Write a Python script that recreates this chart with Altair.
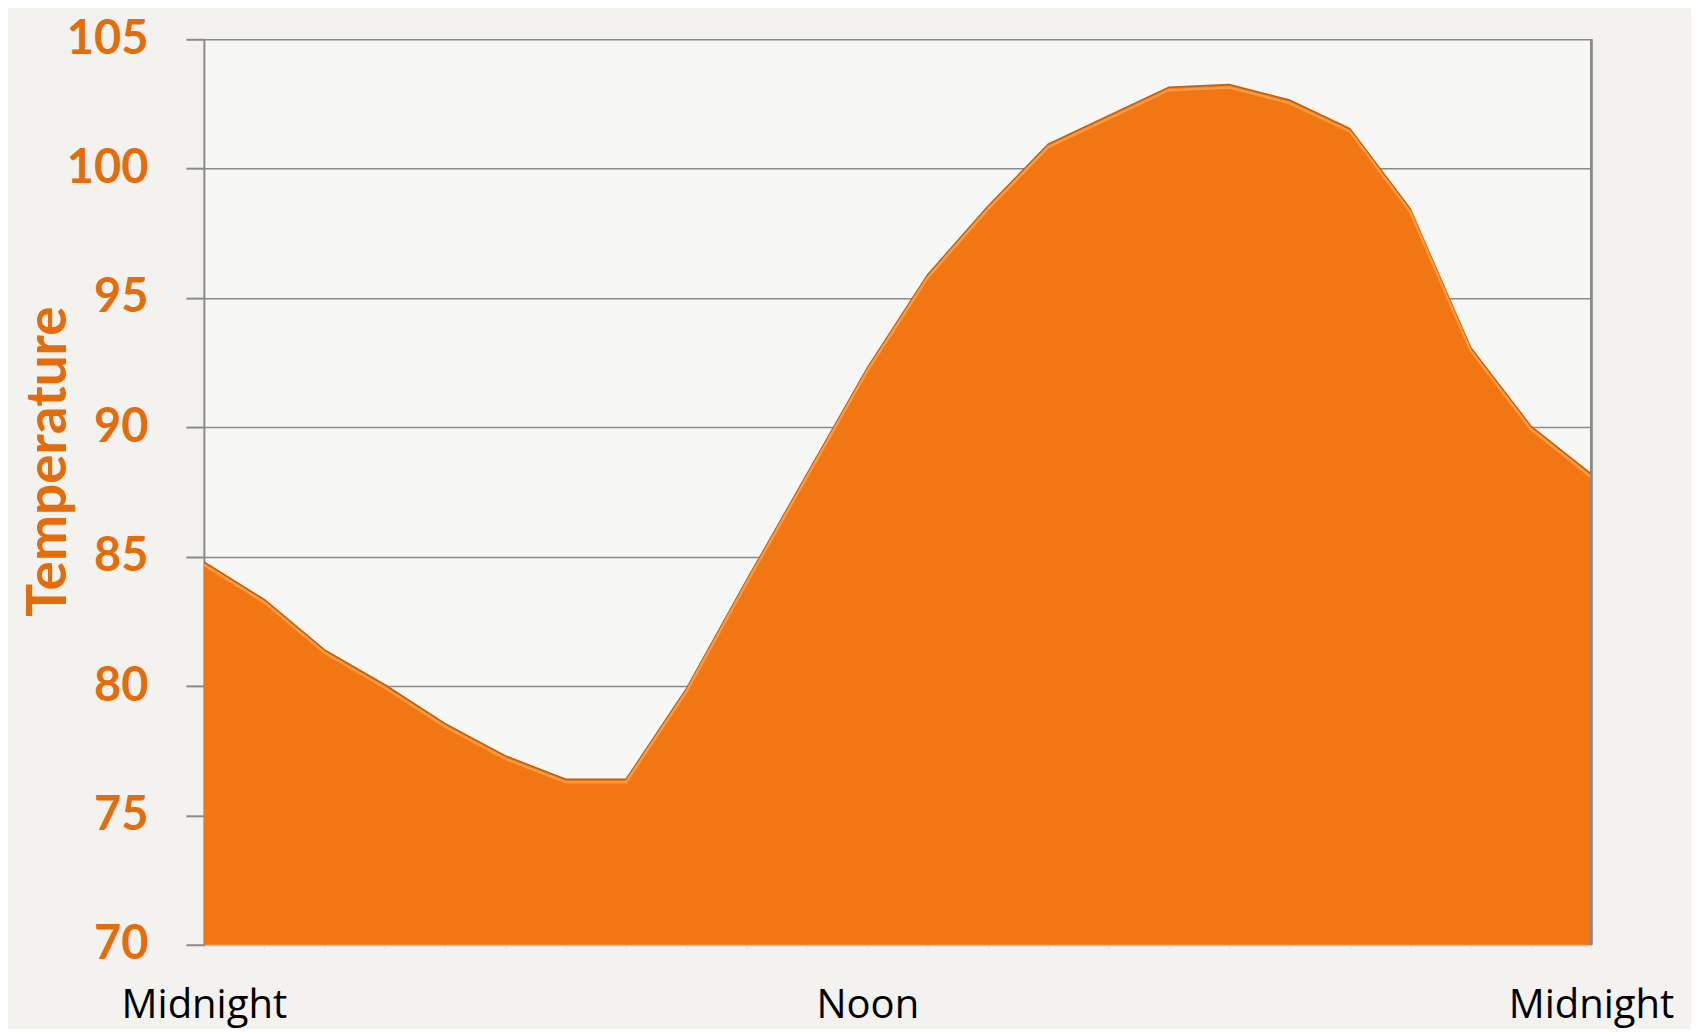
import altair as alt
import pandas as pd

hours = list(range(24))
temps = [84.8, 83.35, 81.4, 80.05, 78.55, 77.3, 76.4, 76.4, 79.9, 84.1, 88.2, 92.3,
         95.9, 98.55, 100.95, 102.05, 103.15, 103.25, 102.65, 101.55, 98.45, 93.1, 90.05, 88.2]
x_labels = {0: "Midnight", 11: "Noon", 23: "Midnight"}
y_ticks = [70, 75, 80, 85, 90, 95, 100, 105]

df = pd.DataFrame({"hour": hours, "temp": temps})

label_expr = " : ".join(
    [f"datum.value == {k} ? '{v}'" for k, v in x_labels.items()]
) + " : ''"

ORANGE = "#F27612"
LABEL_ORANGE = "#E46C0A"

x_enc = alt.X(
    "hour:Q",
    scale=alt.Scale(domain=[0, 23], nice=False, zero=False),
    axis=alt.Axis(
        values=hours,
        labelExpr=label_expr,
        title=None,
        grid=False,
        labelFont="Open Sans",
        labelFontSize=40,
        labelColor="#000000",
        labelPadding=37,
        labelOverlap=False,
        labelFlush=False,
        labelBound=False,
        domainColor="#b4c6e0",
        domainWidth=2,
        tickColor="#dde4ee",
        tickSize=4,
        tickWidth=1,
    ),
)

y_enc = alt.Y(
    "temp:Q",
    scale=alt.Scale(domain=[70, 105], nice=False, zero=False),
    axis=alt.Axis(
        values=y_ticks,
        title="Temperature",
        titleFont="Lato",
        titleFontSize=55,
        titleFontWeight="bold",
        titleColor=LABEL_ORANGE,
        titleAngle=270,
        titleX=-155,
        titleY=422,
        titleAlign="center",
        titleBaseline="middle",
        labelFont="Lato",
        labelFontSize=47,
        labelFontWeight="bold",
        labelColor=LABEL_ORANGE,
        labelPadding=38,
        labelBaseline="middle",
        labelFlush=False,
        labelBound=False,
        domainColor="#8a8a8a",
        domainWidth=2,
        tickColor="#8a8a8a",
        tickSize=18,
        tickWidth=2,
        gridColor="#8a8a8a",
        gridWidth=1.5,
    ),
)

area = alt.Chart(df).mark_area(
    color=ORANGE,
    opacity=1,
    line={"color": "#c35e0c", "strokeWidth": 1.5},
    clip=True,
).encode(x=x_enc, y=y_enc)

highlight = alt.Chart(df).mark_line(
    color="#f9a04c", strokeWidth=2.5, opacity=0.85, yOffset=3, clip=True
).encode(x="hour:Q", y="temp:Q")

right_rule = alt.Chart(df).mark_rule(color="#8a8a8a", strokeWidth=2).encode(
    x=alt.datum(23)
)

chart = alt.layer(area, highlight, right_rule).properties(
    width=1388,
    height=906,
    autosize=alt.AutoSizeParams(type="none"),
    padding={"left": 196, "top": 31, "right": 100, "bottom": 84},
    background="#f3f2ee",
).configure_view(
    fill="#f7f7f5",
    stroke=None,
)

chart.save("out.html", embed_options={"renderer": "svg", "actions": False})
